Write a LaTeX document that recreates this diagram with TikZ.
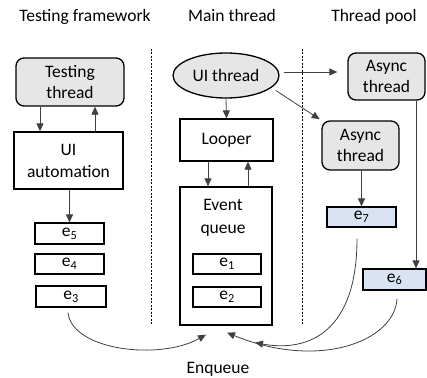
\documentclass[tikz,border=0pt]{standalone}
\usepackage{fontspec}
\setmainfont{Carlito}
\usetikzlibrary{arrows.meta,shapes.geometric}
\definecolor{boxgray}{HTML}{E7E6E6}
\definecolor{boxblue}{HTML}{DAE3F3}
\definecolor{lnk}{HTML}{404040}
\tikzset{
  box/.style={draw=black, line width=1.3pt, inner sep=0pt, align=center},
  thrd/.style={box, fill=boxgray, rounded corners=8pt},
  evt/.style={box, line width=1.2pt},
  evtb/.style={evt, fill=boxblue},
  conn/.style={draw=lnk, line width=0.8pt, -{Triangle[length=8pt,width=7pt]}},
  sep/.style={draw=black, line width=0.8pt, dash pattern=on 2pt off 1.5pt},
  ttl/.style={anchor=base, inner sep=0pt}
}
\begin{document}
\begin{tikzpicture}[x=1pt,y=-1pt, font=\fontsize{17.5}{20.5}\selectfont]
\useasboundingbox (0,0) rectangle (427,377);
% titles
\node[ttl] (t1) at (85,22) {Testing framework};
\node[ttl] (t2) at (232,22) {Main thread};
\node[ttl] (t3) at (374,22) {Thread pool};
\node[ttl] (enq) at (218,373) {Enqueue};
% separators
\coordinate (s1a) at (151,49); \coordinate (s1b) at (151,325);
\coordinate (s2a) at (302,49); \coordinate (s2b) at (302,325);
\draw[sep] (s1a) -- (s1b);
\draw[sep] (s2a) -- (s2b);
% testing framework
\node[thrd, minimum width=108pt, minimum height=48pt] (tt) at (70,82) {Testing\\thread};
\node[box, minimum width=109pt, minimum height=57pt, font=\fontsize{17.5}{22}\selectfont] (ua) at (68.5,160.5) {UI\\automation};
\node[evt, minimum width=69pt, minimum height=21pt] (e5) at (69.5,233.5) {e\textsubscript{5}};
\node[evt, minimum width=69pt, minimum height=20pt] (e4) at (69.5,264) {e\textsubscript{4}};
\node[evt, minimum width=70pt, minimum height=21pt] (e3) at (71,296.5) {e\textsubscript{3}};
% main thread
\node[box, ellipse, fill=boxgray, minimum width=106pt, minimum height=45pt] (ut) at (226,75.5) {UI thread};
\node[box, minimum width=93pt, minimum height=42pt] (lp) at (226.5,140) {Looper};
\node[box, minimum width=92pt, minimum height=138pt] (eq) at (226,256) {};
\node[inner sep=0pt, align=center, font=\fontsize{17.5}{23}\selectfont] (eql) at (223,218) {Event\\queue};
\node[evt, minimum width=68pt, minimum height=20pt] (e1) at (227,264) {e\textsubscript{1}};
\node[evt, minimum width=68pt, minimum height=20pt] (e2) at (227,297) {e\textsubscript{2}};
% thread pool
\node[thrd, minimum width=77pt, minimum height=47pt] (as1) at (386.5,76.5) {Async\\thread};
\node[thrd, minimum width=77pt, minimum height=49pt] (as2) at (360.5,145.5) {Async\\thread};
\node[evtb, minimum width=69pt, minimum height=20pt] (e7) at (361.5,217) {e\textsubscript{7}};
\node[evtb, minimum width=63pt, minimum height=21pt] (e6) at (394.5,279.5) {e\textsubscript{6}};
% straight connectors
\draw[conn] ([xshift=-30pt]tt.south) -- ([xshift=-30pt]tt.south |- ua.north);
\draw[conn] ([xshift=25pt]tt.south |- ua.north) -- ([xshift=25pt]tt.south);
\draw[conn] (e5.north |- ua.south) -- (e5.north);
\draw[conn] (ut.south) -- (lp.north);
\draw[conn] ([xshift=-18.5pt]lp.south) -- ([xshift=-18.5pt]lp.south |- eq.north);
\draw[conn] ([xshift=21.5pt]lp.south |- eq.north) -- ([xshift=21.5pt]lp.south);
\draw[conn] ([xshift=4pt,yshift=3.5pt]ut.east) -- ([xshift=-10pt,yshift=4.5pt]as1.west);
\draw[conn, shorten <=5pt, shorten >=2pt] (ut.-15) -- (as2.north west);
\draw[conn] (e7.north |- as2.south) -- (e7.north);
\draw[conn] ([xshift=29.5pt]as1.south) -- ([xshift=29.5pt]as1.south |- e6.north);
% enqueue curves
\draw[conn] ([xshift=-3pt,yshift=-5pt]e3.south) .. controls +(4,38) and +(-46,26) .. ([xshift=-20pt,yshift=-9pt]eq.south);
\draw[conn] ([xshift=-4.5pt,yshift=-11pt]e7.south) .. controls +(0,92) and +(55,10) .. ([xshift=29pt,yshift=-17pt]eq.south);
\draw[conn] ([xshift=2.5pt,yshift=-8pt]e6.south) .. controls +(-2,42) and +(93,38) .. ([xshift=1pt,yshift=-7pt]eq.south);
\end{tikzpicture}
\end{document}
